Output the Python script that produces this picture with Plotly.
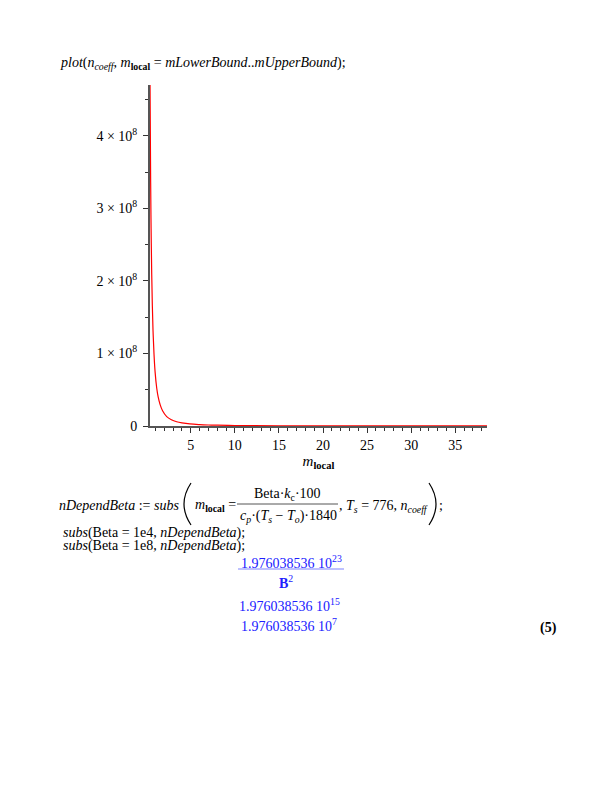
import plotly.graph_objects as go

# ---- data ----
m_local = [0.38, 0.45, 0.50, 0.57, 0.64, 0.72, 0.83, 0.95, 1.14, 1.30, 1.51, 1.80,
           2.27, 2.80, 3.40, 4.00, 4.90, 6.00, 7.00, 8.00, 10.0, 12.0, 15.0, 20.0,
           25.0, 30.0, 35.0, 38.6]
n_coeff = [4.70e8, 3.36e8, 2.72e8, 2.09e8, 1.66e8, 1.31e8, 0.99e8, 0.75e8, 0.52e8,
           0.40e8, 0.30e8, 0.21e8, 0.13e8, 0.087e8, 0.059e8, 0.043e8, 0.028e8,
           0.019e8, 0.014e8, 0.011e8, 0.0068e8, 0.0047e8, 0.003e8, 0.0017e8,
           0.0011e8, 0.00076e8, 0.00056e8, 0.00046e8]
y_tickvals = [0, 1e8, 2e8, 3e8, 4e8]
y_ticktext = ["0", "1 × 10<sup>8</sup>", "2 × 10<sup>8</sup>",
              "3 × 10<sup>8</sup>", "4 × 10<sup>8</sup>"]
x_tickvals = [5, 10, 15, 20, 25, 30, 35]
x_ticktext = ["5", "10", "15", "20", "25", "30", "35"]

FONT = "Liberation Serif"
BLUE = "#2020ff"

# page offset (browser body margin) and plot area in screen pixels
OFF = 8
FW, FH = 612 - OFF, 792 - OFF
L, R, T, B = 150, 487, 85, 426
W, H = R - L, B - T


def px(x):
    return (x - L) / W


def py(y):
    return (B - y) / H


fig = go.Figure()
fig.add_trace(go.Scatter(x=m_local, y=n_coeff, mode="lines",
                         line=dict(color="#ff0000", width=1.2, shape="spline"),
                         hoverinfo="skip", showlegend=False))

fig.update_layout(
    width=FW, height=FH,
    margin=dict(l=L - OFF, r=FW - (R - OFF), t=T - OFF, b=FH - (B - OFF), pad=0),
    paper_bgcolor="white", plot_bgcolor="white",
    font=dict(family=FONT, size=14, color="black"),
    showlegend=False,
    xaxis=dict(range=[0.375, 38.6], showgrid=False, zeroline=False,
               showline=True, linecolor="#555555", linewidth=2,
               ticks="outside", ticklen=5, tickcolor="#333333", tickwidth=1,
               tickvals=x_tickvals, ticktext=x_ticktext,
               tickfont=dict(family=FONT, size=14),
               minor=dict(tickmode="linear", tick0=0, dtick=1, ticklen=3,
                          tickcolor="#333333", showgrid=False),
               title=dict(text="<i>m</i><sub><b>local</b></sub>",
                          font=dict(family=FONT, size=15), standoff=4)),
    yaxis=dict(range=[0, 4.70e8], showgrid=False, zeroline=False,
               showline=True, linecolor="#555555", linewidth=2,
               ticks="outside", ticklen=5, tickcolor="#333333", tickwidth=1,
               ticklabelstandoff=3,
               tickvals=y_tickvals, ticktext=y_ticktext,
               tickfont=dict(family=FONT, size=14),
               minor=dict(tickmode="linear", tick0=0, dtick=5e7, ticklen=3,
                          tickcolor="#333333", showgrid=False)),
)

ann = []


def text(x, y, s, anchor="left", color="black", size=14):
    ann.append(dict(x=px(x), y=py(y), xref="paper", yref="paper", text=s,
                    showarrow=False, xanchor=anchor, yanchor="middle",
                    font=dict(family=FONT, size=size, color=color)))


text(58, 63, "<i>plot</i>(<i>n</i><sub><i>coeff</i></sub>, <i>m</i><sub><b>local</b></sub> = "
             "<i>mLowerBound</i>..<i>mUpperBound</i>);")

text(57, 505, "<i>nDependBeta</i> := <i>subs</i>")
text(193, 505, "<i>m</i><sub><b>local</b></sub> =")
text(287, 494, "Beta·<i>k</i><sub>c</sub>·100", anchor="center")
text(288, 516, "<i>c</i><sub><i>p</i></sub>·(<i>T</i><sub><i>s</i></sub> − "
               "<i>T</i><sub><i>o</i></sub>)·1840", anchor="center")
text(337, 506, ", <i>T</i><sub><i>s</i></sub> = 776, <i>n</i><sub><i>coeff</i></sub>")
text(437, 505, ";")
text(61, 533, "<i>subs</i>(Beta = 1e4, <i>nDependBeta</i>);")
text(61, 546, "<i>subs</i>(Beta = 1e8, <i>nDependBeta</i>);")

text(291, 562, "1.976038536 10<sup>23</sup>", anchor="center", color=BLUE)
text(286, 582, "<b>B</b><sup>2</sup>", anchor="center", color=BLUE)
text(289, 605, "1.976038536 10<sup>15</sup>", anchor="center", color=BLUE)
text(289, 625, "1.976038536 10<sup>7</sup>", anchor="center", color=BLUE)
text(548, 628, "<b>(5)</b>", anchor="center")

shapes = [
    # fraction bar (input)
    dict(type="line", xref="paper", yref="paper", x0=px(237), x1=px(338),
         y0=py(504), y1=py(504), line=dict(color="#555555", width=1)),
    # fraction bar (output)
    dict(type="line", xref="paper", yref="paper", x0=px(238), x1=px(344),
         y0=py(569), y1=py(569), line=dict(color="#a8acff", width=1.5)),
    # big parentheses
    dict(type="path", xref="paper", yref="paper",
         path=f"M {px(191)},{py(483)} Q {px(177)},{py(504)} {px(191)},{py(525)}",
         line=dict(color="black", width=1.2)),
    dict(type="path", xref="paper", yref="paper",
         path=f"M {px(429)},{py(483)} Q {px(443)},{py(504)} {px(429)},{py(525)}",
         line=dict(color="black", width=1.2)),
]

fig.update_layout(annotations=ann, shapes=shapes)
fig.write_html("out.html")
